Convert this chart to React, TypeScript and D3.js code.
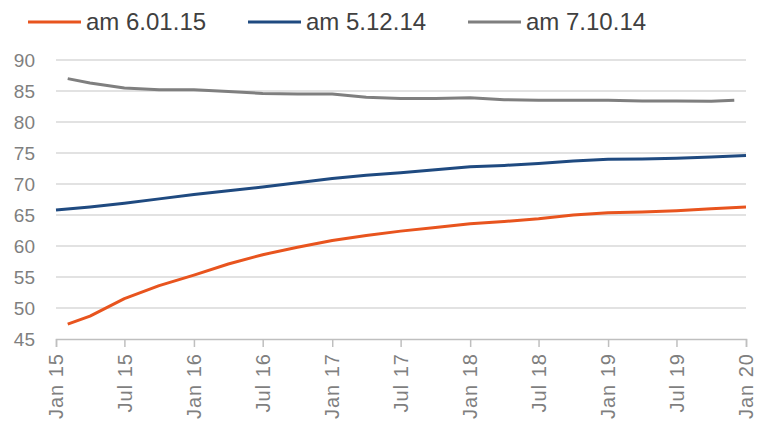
import { useRef, useEffect } from 'react';
import * as d3 from 'd3';

// quarterly readings (first month differs per series)
const orangeDates = ['2015-02', '2015-04', '2015-07', '2015-10', '2016-01', '2016-04', '2016-07', '2016-10', '2017-01', '2017-04', '2017-07', '2017-10', '2018-01', '2018-04', '2018-07', '2018-10', '2019-01', '2019-04', '2019-07', '2019-10', '2020-01'];
const orangeValues = [47.4, 48.7, 51.5, 53.6, 55.3, 57.1, 58.6, 59.8, 60.9, 61.7, 62.4, 63.0, 63.6, 63.95, 64.4, 65.0, 65.35, 65.5, 65.7, 66.0, 66.3];

const blueDates = ['2015-01', '2015-04', '2015-07', '2015-10', '2016-01', '2016-04', '2016-07', '2016-10', '2017-01', '2017-04', '2017-07', '2017-10', '2018-01', '2018-04', '2018-07', '2018-10', '2019-01', '2019-04', '2019-07', '2019-10', '2020-01'];
const blueValues = [65.8, 66.3, 66.9, 67.6, 68.3, 68.9, 69.5, 70.2, 70.9, 71.4, 71.8, 72.3, 72.8, 73.0, 73.3, 73.7, 74.0, 74.05, 74.15, 74.35, 74.6];

const grayDates = ['2015-02', '2015-04', '2015-07', '2015-10', '2016-01', '2016-04', '2016-07', '2016-10', '2017-01', '2017-04', '2017-07', '2017-10', '2018-01', '2018-04', '2018-07', '2018-10', '2019-01', '2019-04', '2019-07', '2019-10', '2019-12'];
const grayValues = [87.0, 86.3, 85.5, 85.2, 85.2, 84.9, 84.6, 84.5, 84.5, 84.0, 83.8, 83.8, 83.9, 83.6, 83.5, 83.5, 83.5, 83.4, 83.4, 83.35, 83.5];

const seriesNames = ['am 6.01.15', 'am 5.12.14', 'am 7.10.14'];
const seriesColors = ['#E8541E', '#1F4A80', '#7F7F7F'];
const yTicks = [45, 50, 55, 60, 65, 70, 75, 80, 85, 90];

export default function App() {
  const ref = useRef<SVGSVGElement>(null);

  useEffect(() => {
    if (!ref.current) return;
    document.body.style.margin = '0';

    const width = 757;
    const height = 425;
    const margin = { top: 60, right: 11, bottom: 86, left: 56 };
    const parse = d3.timeParse('%Y-%m');

    const series = [
      orangeDates.map((d, i) => ({ date: parse(d)!, value: orangeValues[i] })),
      blueDates.map((d, i) => ({ date: parse(d)!, value: blueValues[i] })),
      grayDates.map((d, i) => ({ date: parse(d)!, value: grayValues[i] })),
    ];

    d3.select(ref.current).selectAll('*').remove();
    const svg = d3.select(ref.current).attr('width', width).attr('height', height);

    const x = d3
      .scaleTime()
      .domain([parse('2015-01')!, parse('2020-01')!])
      .range([margin.left, width - margin.right]);

    const y = d3
      .scaleLinear()
      .domain([45, 90])
      .range([height - margin.bottom, margin.top]);

    const font = '"Liberation Sans Narrow", "Liberation Sans", sans-serif';

    // gridlines
    svg
      .append('g')
      .selectAll('line')
      .data(yTicks.filter((t) => t > 45))
      .join('line')
      .attr('x1', margin.left)
      .attr('x2', width - margin.right)
      .attr('y1', (d) => y(d))
      .attr('y2', (d) => y(d))
      .attr('stroke', '#D9D9D9')
      .attr('stroke-width', 1.5);

    // y labels
    svg
      .append('g')
      .selectAll('text')
      .data(yTicks)
      .join('text')
      .attr('x', 35)
      .attr('y', (d) => y(d))
      .attr('dy', '0.35em')
      .attr('text-anchor', 'end')
      .attr('font-family', font)
      .attr('font-size', 19)
      .attr('fill', '#7F7F7F')
      .text((d) => d);

    // x axis
    const xAxis = svg
      .append('g')
      .attr('transform', `translate(0,${height - margin.bottom})`)
      .call(
        d3
          .axisBottom(x)
          .ticks(d3.timeMonth.every(6))
          .tickSize(8)
          .tickFormat((d) => d3.timeFormat('%b %y')(d as Date))
      );
    xAxis.select('.domain').attr('stroke', '#BFBFBF').attr('stroke-width', 1.5);
    xAxis.selectAll('.tick line').attr('stroke', '#BFBFBF').attr('stroke-width', 1.5);
    xAxis
      .selectAll('.tick text')
      .attr('transform', 'rotate(-90)')
      .attr('x', -14)
      .attr('y', 0)
      .attr('dy', '0.33em')
      .attr('text-anchor', 'end')
      .attr('font-family', font)
      .attr('font-size', 20)
      .attr('letter-spacing', 1)
      .attr('fill', '#7F7F7F');

    const line = d3
      .line<{ date: Date; value: number }>()
      .x((d) => x(d.date))
      .y((d) => y(d.value));

    svg
      .append('g')
      .selectAll('path')
      .data(series)
      .join('path')
      .attr('d', (d) => line(d))
      .attr('fill', 'none')
      .attr('stroke', (_, i) => seriesColors[i])
      .attr('stroke-width', 3)
      .attr('stroke-linejoin', 'round');

    // legend
    const legendX = [28, 248, 468];
    const lg = svg
      .append('g')
      .selectAll('g')
      .data(seriesNames)
      .join('g')
      .attr('transform', (_, i) => `translate(${legendX[i]},22)`);
    lg.append('line')
      .attr('x1', 0)
      .attr('x2', 53)
      .attr('stroke', (_, i) => seriesColors[i])
      .attr('stroke-width', 3);
    lg.append('text')
      .attr('x', 58)
      .attr('dy', '0.35em')
      .attr('font-family', font)
      .attr('font-size', 24)
      .attr('fill', '#404040')
      .text((d) => d);
  }, []);

  return <svg ref={ref}></svg>;
}
